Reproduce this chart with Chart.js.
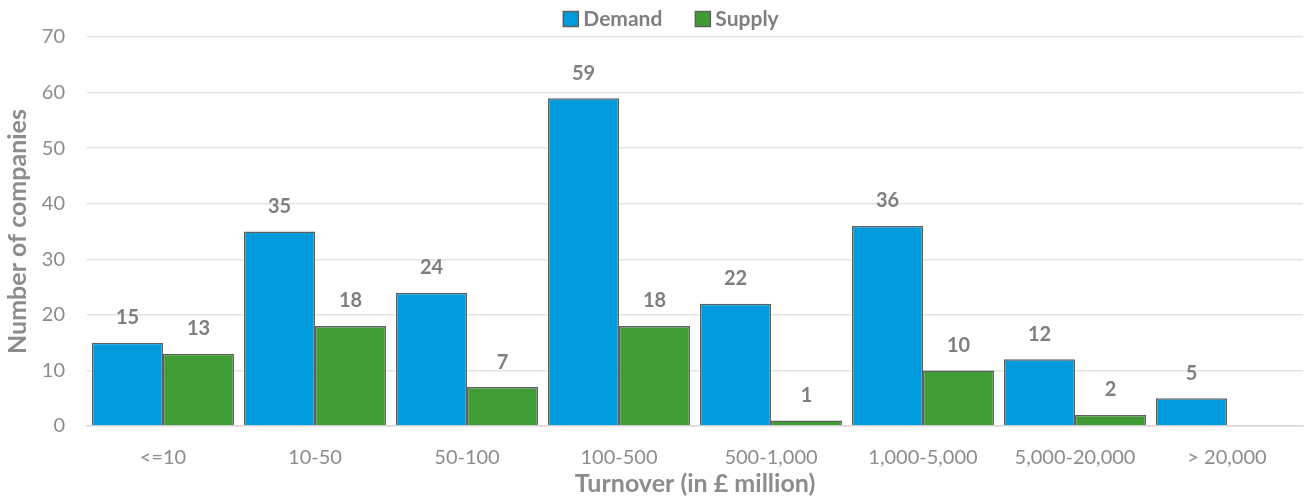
<!DOCTYPE html>
<html><head><meta charset="utf-8">
<script src="https://cdn.jsdelivr.net/npm/chart.js@4.4.0/dist/chart.umd.min.js"></script>
<style>html,body{margin:0;padding:0;background:#fff;}canvas{display:block;}</style>
</head><body>
<canvas id="c" width="1304" height="499"></canvas>
<script>
const categories = ['<=10','10-50','50-100','100-500','500-1,000','1,000-5,000','5,000-20,000','> 20,000'];
const demand = [15,35,24,59,22,36,12,5];
const supply = [13,18,7,18,1,10,2,null];
const yTicks = [0,10,20,30,40,50,60,70];

const FONT = "Lato, 'Open Sans', sans-serif";
const GRAY = '#8c8c8c';
const BORDER = '#5f5f5f';

const labelPlugin = {
  id: 'barLabels',
  afterDatasetsDraw(chart) {
    const ctx = chart.ctx;
    ctx.save();
    ctx.font = "bold 20px " + FONT;
    ctx.fillStyle = '#7f7f7f';
    ctx.textAlign = 'center';
    ctx.textBaseline = 'middle';
    chart.data.datasets.forEach((ds, di) => {
      const meta = chart.getDatasetMeta(di);
      meta.data.forEach((el, i) => {
        const v = ds.data[i];
        if (v === null || v === undefined) return;
        ctx.fillText(String(v), el.x, el.y - 25);
      });
    });
    ctx.restore();
  }
};

const legendPlugin = {
  id: 'topLegend',
  afterDatasetsDraw(chart) {
    const ctx = chart.ctx;
    ctx.save();
    ctx.font = "bold 21px " + FONT;
    ctx.textBaseline = 'middle';
    ctx.textAlign = 'left';
    const box = 15, gapText = 5, gapItem = 33, cy = 19;
    const items = chart.data.datasets.map(d => ({ t: d.label, c: d.backgroundColor, w: ctx.measureText(d.label).width }));
    let total = 0;
    items.forEach((it, i) => { total += box + gapText + it.w + (i ? gapItem : 0); });
    let x = 671 - total / 2;
    items.forEach((it) => {
      ctx.fillStyle = it.c;
      ctx.fillRect(x, cy - box / 2, box, box);
      ctx.strokeStyle = BORDER;
      ctx.lineWidth = 1.5;
      ctx.strokeRect(x, cy - box / 2, box, box);
      ctx.fillStyle = '#7f7f7f';
      ctx.fillText(it.t, x + box + gapText, cy);
      x += box + gapText + it.w + gapItem;
    });
    ctx.restore();
  }
};

new Chart(document.getElementById('c'), {
  type: 'bar',
  data: {
    labels: categories,
    datasets: [
      { label: 'Demand', data: demand, backgroundColor: '#009bdc', borderColor: BORDER, borderWidth: 1.5,
        categoryPercentage: 0.934, barPercentage: 1.0 },
      { label: 'Supply', data: supply, backgroundColor: '#3f9c35', borderColor: BORDER, borderWidth: 1.5,
        categoryPercentage: 0.934, barPercentage: 1.0 }
    ]
  },
  options: {
    responsive: false,
    animation: false,
    layout: { padding: { left: 3, right: 1, top: 37, bottom: 0 } },
    plugins: {
      legend: { display: false },
      tooltip: { enabled: false }
    },
    scales: {
      x: {
        afterFit(scale) { scale.height = 73; },
        grid: { display: false, drawTicks: false },
        border: { display: true, color: '#d9d9d9', width: 1.5 },
        ticks: { color: GRAY, font: { family: FONT, size: 20 }, padding: 20, maxRotation: 0 },
        title: { display: true, text: 'Turnover (in £ million)', color: GRAY,
                 font: { family: FONT, size: 25, weight: 'bold' }, padding: { top: 0, bottom: 0 } }
      },
      y: {
        min: 0, max: 70,
        afterFit(scale) { scale.width = 84; },
        afterBuildTicks(axis) { axis.ticks = yTicks.map(v => ({ value: v })); },
        grid: { color: '#e3e3e3', lineWidth: 1.5, drawTicks: false },
        border: { display: false },
        ticks: { color: GRAY, font: { family: FONT, size: 20 }, padding: 22 },
        title: { display: true, text: 'Number of companies', color: GRAY,
                 font: { family: FONT, size: 25, weight: 'bold' }, padding: { top: 0, bottom: 0 } }
      }
    }
  },
  plugins: [labelPlugin, legendPlugin]
});
</script>
</body></html>
